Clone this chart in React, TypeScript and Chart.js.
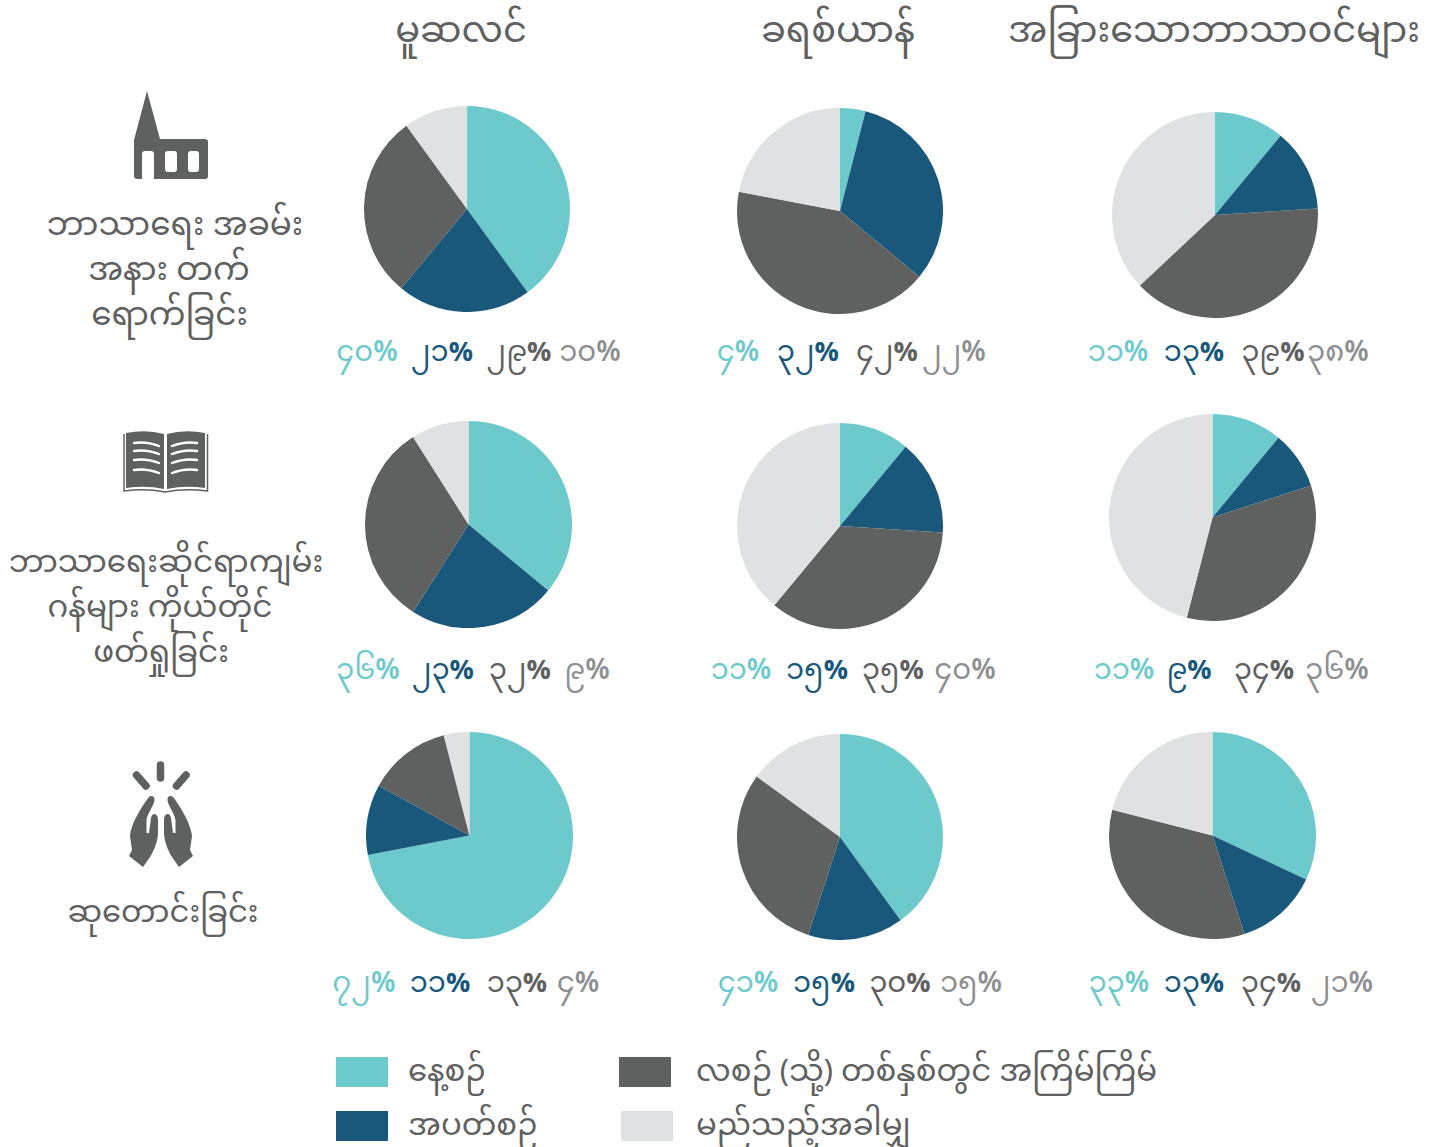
import React, { useEffect, useRef } from "react";
import { Chart, registerables } from "chart.js";

Chart.register(...registerables);

// ---- data ----
const columnTitles = ["မူဆလင်", "ခရစ်ယာန်", "အခြားသောဘာသာဝင်များ"];
const rowTitles = [
  ["ဘာသာရေး အခမ်း", "အနား တက်", "ရောက်ခြင်း"],
  ["ဘာသာရေးဆိုင်ရာကျမ်း", "ဂန်များ ကိုယ်တိုင်", "ဖတ်ရှုခြင်း"],
  ["ဆုတောင်းခြင်း"],
];
const seriesNames = ["နေ့စဉ်", "အပတ်စဉ်", "လစဉ် (သို့) တစ်နှစ်တွင် အကြိမ်ကြိမ်", "မည်သည့်အခါမျှ"];

const r1Muslim = [40, 21, 29, 10];
const r1Christian = [4, 32, 42, 22];
const r1Other = [11, 13, 39, 37];
const r2Muslim = [36, 23, 32, 9];
const r2Christian = [11, 15, 35, 39];
const r2Other = [11, 9, 34, 46];
const r3Muslim = [72, 11, 13, 4];
const r3Christian = [40, 15, 30, 15];
const r3Other = [32, 13, 34, 21];
const pieValues = [r1Muslim, r1Christian, r1Other, r2Muslim, r2Christian, r2Other, r3Muslim, r3Christian, r3Other];

const l1Muslim = ["၄၀", "၂၁", "၂၉", "၁၀"];
const l1Christian = ["၄", "၃၂", "၄၂", "၂၂"];
const l1Other = ["၁၁", "၁၃", "၃၉", "၃၈"];
const l2Muslim = ["၃၆", "၂၃", "၃၂", "၉"];
const l2Christian = ["၁၁", "၁၅", "၃၅", "၄၀"];
const l2Other = ["၁၁", "၉", "၃၄", "၃၆"];
const l3Muslim = ["၇၂", "၁၁", "၁၃", "၄"];
const l3Christian = ["၄၁", "၁၅", "၃၀", "၁၅"];
const l3Other = ["၃၃", "၁၃", "၃၄", "၂၁"];
const pieLabels = [l1Muslim, l1Christian, l1Other, l2Muslim, l2Christian, l2Other, l3Muslim, l3Christian, l3Other];

// ---- layout & style ----
const TEAL = "#6CCACD";
const NAVY = "#19587A";
const DARK = "#5F6161";
const LIGHT = "#E0E1E3";
const sliceColors = [TEAL, NAVY, DARK, LIGHT];
const labelColors = [TEAL, NAVY, DARK, "#8E8F91"];
const FONT = '"Noto Sans Myanmar","Myanmar Text","Padauk","Noto Sans",sans-serif';

const pieBoxes = [
  [364, 106, 206], [737, 108, 206], [1112, 112, 206],
  [365, 421, 207], [737, 423, 206], [1109, 414, 207],
  [366, 732, 207], [737, 734, 206], [1109, 732, 207],
];
const labelRowY = [354, 354, 354, 672, 672, 672, 985, 985, 985];
const labelCenters = [
  [367, 442, 519, 590], [738, 808, 887, 954], [1118, 1194, 1273, 1338],
  [368, 443, 520, 587], [741, 817, 893, 965], [1124, 1189, 1264, 1337],
  [364, 440, 517, 578], [748, 824, 900, 971], [1119, 1194, 1271, 1342],
];
const titleCenters = [461, 838, 1214];
const rowSizes = [32.7, 31, 30.7];
const rowLineCenters = [[175, 169, 169.5], [166, 160, 161], [163]];
const rowLineYs = [[228, 273, 318], [565, 610, 655], [915]];
const legendSwatches = [[336, 1057], [336, 1111], [619, 1057], [621, 1111]];
const legendTexts = [[408, 1074], [408, 1128], [696, 1074], [696, 1128]];

function Pie({ values, box }: { values: number[]; box: number[] }) {
  const ref = useRef<HTMLCanvasElement>(null);
  useEffect(() => {
    const chart = new Chart(ref.current!, {
      type: "pie",
      data: {
        labels: seriesNames,
        datasets: [{ data: values, backgroundColor: sliceColors, borderWidth: 0 }],
      },
      options: {
        responsive: false,
        animation: false,
        layout: { padding: 0 },
        plugins: { legend: { display: false }, tooltip: { enabled: false } },
      },
    });
    return () => chart.destroy();
  }, []);
  return (
    <canvas
      ref={ref}
      width={box[2]}
      height={box[2]}
      style={{ position: "absolute", left: box[0], top: box[1], width: box[2], height: box[2] }}
    />
  );
}

function Text({ x, y, size, color, align, children }: any) {
  const tx = align === "left" ? "translateY(-50%)" : "translate(-50%,-50%)";
  return (
    <div
      style={{
        position: "absolute",
        left: x,
        top: y,
        transform: tx,
        whiteSpace: "nowrap",
        fontFamily: FONT,
        fontSize: size,
        lineHeight: 1,
        color,
      }}
    >
      {children}
    </div>
  );
}

function Icons() {
  return (
    <svg width={1439} height={1147} style={{ position: "absolute", left: 0, top: 0 }}>
      {/* church */}
      <path
        fill={DARK}
        fillRule="evenodd"
        d="M147 91 L160 139 L205 139 Q208 139 208 142 L208 176 Q208 179 205 179 L154 179 L154 154 Q154 151 151 151 L145 151 Q142 151 142 154 L142 179 L137 179 Q134 179 134 176 L134 140 Z M168 151 Q165 151 165 154 L165 169 Q165 172 168 172 L174 172 Q177 172 177 169 L177 154 Q177 151 174 151 Z M191 151 Q188 151 188 154 L188 169 Q188 172 191 172 L196 172 Q199 172 199 169 L199 154 Q199 151 196 151 Z"
      />
      {/* book */}
      <path
        fill={DARK}
        d="M126 433 Q146 429 164 434 L164 489 Q146 485 126 488 Z M205 433 Q185 429 167 434 L167 489 Q185 485 205 488 Z"
      />
      <path
        fill="none"
        stroke={DARK}
        strokeWidth={1.5}
        d="M124 434 L124 491 Q146 488 165 492 Q185 488 207.5 491 L207.5 434"
      />
      <g fill="none" stroke="#fff" strokeWidth={2.4} strokeLinecap="round">
        <path d="M134 443 Q146 441 159 446 M134 451 Q146 449 159 454 M134 460 Q146 458 159 463 M134 470 Q146 468 159 473" />
        <path d="M197 443 Q185 441 172 446 M197 451 Q185 449 172 454 M197 460 Q185 458 172 463 M197 470 Q185 468 172 473" />
      </g>
      {/* praying hands */}
      <g fill="none" stroke={DARK} strokeWidth={7.5} strokeLinecap="round">
        <path d="M160.5 765 L160.5 778 M136.5 775 L146 786 M186 775 L176.5 786" />
      </g>
      <path
        fill={DARK}
        d="M149 797 C145 802 131 822 130 836 L132 850 L129 856 L143 867 L150 857 C155 849 158 840 158 832 L158 820 C158 813 152 812 151 818 L149 833 L146.5 833 L146.5 820 C148 812 154 806 154.5 800 C155 796 151 795 149 797 Z"
      />
      <path
        fill={DARK}
        d="M173 797 C177 802 191 822 192 836 L190 850 L193 856 L179 867 L172 857 C167 849 164 840 164 832 L164 820 C164 813 170 812 171 818 L173 833 L175.5 833 L175.5 820 C174 812 168 806 167.5 800 C167 796 171 795 173 797 Z"
      />
    </svg>
  );
}

export default function App() {
  return (
    <div style={{ position: "absolute", left: 0, top: 0, width: 1439, height: 1147, overflow: "hidden", background: "#fff" }}>
      <Icons />
      {columnTitles.map((t, i) => (
        <Text key={t} x={titleCenters[i]} y={34} size={36.8} color={DARK}>{t}</Text>
      ))}
      {rowTitles.map((lines, r) =>
        lines.map((line, j) => (
          <Text key={line} x={rowLineCenters[r][j]} y={rowLineYs[r][j]} size={rowSizes[r]} color={DARK}>{line}</Text>
        ))
      )}
      {pieValues.map((v, i) => (
        <Pie key={i} values={v} box={pieBoxes[i]} />
      ))}
      {pieLabels.map((labels, i) =>
        labels.map((l, j) => (
          <Text key={`${i}-${j}`} x={labelCenters[i][j]} y={labelRowY[i]} size={29} color={labelColors[j]}>
            {l}
            <span style={{ fontSize: j === 1 || j === 2 ? 27 : 28, fontWeight: j === 1 || j === 2 ? 700 : 600 }}>%</span>
          </Text>
        ))
      )}
      {seriesNames.map((name, i) => (
        <React.Fragment key={name}>
          <div style={{ position: "absolute", left: legendSwatches[i][0], top: legendSwatches[i][1], width: 52, height: 30, background: sliceColors[i] }} />
          <Text x={legendTexts[i][0]} y={legendTexts[i][1]} size={30.8} color={DARK} align="left">{name}</Text>
        </React.Fragment>
      ))}
    </div>
  );
}
